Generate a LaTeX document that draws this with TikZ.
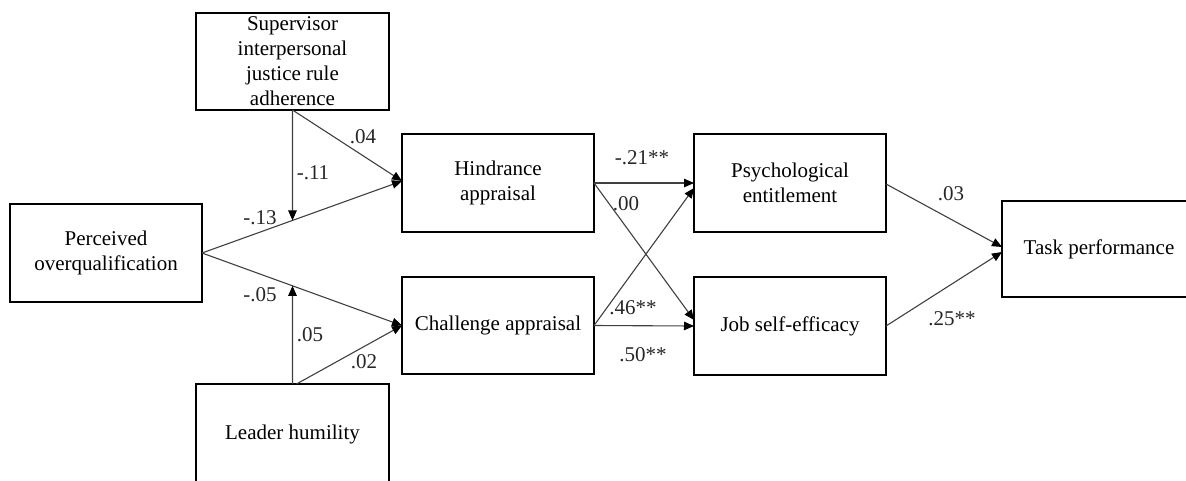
\documentclass[tikz,border=0pt]{standalone}
\usepackage{fontspec}
\setmainfont{Liberation Serif}
\newfontfamily\labelface{Liberation Serif}
\usetikzlibrary{arrows.meta,calc}

\tikzset{
  varbox/.style={draw=black, line width=1.7pt, rectangle, align=center, inner sep=0pt, outer sep=0pt,
                 font=\labelface\fontsize{21}{25}\selectfont},
  path/.style={draw=black!75, line width=1.1pt, -{Triangle[length=10pt,width=8.5pt,color=black]}},
  coef/.style={font=\labelface\fontsize{21}{25}\selectfont, inner sep=0pt, text=black!85}
}

\begin{document}
\begin{tikzpicture}[x=1pt, y=-1pt]
  \useasboundingbox (0,0) rectangle (1186,480);
  \clip (0,0) rectangle (1186,480);

  % variables
  \node[varbox, minimum width=193, minimum height=97]  (sup)  at (292.5,61.5) {Supervisor\\interpersonal\\justice rule\\adherence};
  \node[varbox, minimum width=192, minimum height=98]  (per)  at (106,253)    {Perceived\\overqualification};
  \node[varbox, minimum width=193, minimum height=100] (lea)  at (292.5,434)  {Leader humility};
  \node[varbox, minimum width=192, minimum height=98]  (hin)  at (498,183)    {Hindrance\\appraisal};
  \node[varbox, minimum width=192, minimum height=97]  (cha)  at (498,325.5)  {Challenge appraisal};
  \node[varbox, minimum width=192, minimum height=98]  (psy)  at (790,183)    {Psychological\\entitlement};
  \node[varbox, minimum width=192, minimum height=98]  (job)  at (790,326)    {Job self-efficacy};
  \node[varbox, minimum width=194, minimum height=96]  (task) at (1099,249)   {Task performance};

  % entry points of the first-stage paths
  \coordinate (hinin) at ([yshift=2pt]hin.west);
  \coordinate (chain) at (cha.west);
  % points where the moderators meet those paths
  \coordinate (m1) at ($(per.east)!0.4525!(hinin)$);
  \coordinate (m2) at ($(per.east)!0.4525!(chain)$);

  % first stage
  \draw[path] (per.east) -- (hinin);
  \draw[path] (per.east) -- (chain);
  \draw[path] (sup.south) -- (m1);
  \draw[path] (sup.south) -- (hinin);
  \draw[path] (lea.north) -- (m2);
  \draw[path] ([xshift=4pt]lea.north) -- (chain);

  % second stage
  \draw[path] (hin.east) -- (psy.west);
  \draw[path] (hin.east) -- ([yshift=6pt]job.west);
  \draw[path] (cha.east) -- ([yshift=-5pt]psy.west);
  \draw[path] (cha.east) -- (job.west);

  % third stage
  \draw[path] ([yshift=-1pt]psy.east) -- ([yshift=2pt]task.west);
  \draw[path] (job.east) -- ([yshift=-3pt]task.west);

  % coefficients
  \node[coef] (c1)  at (363,137) {.04};
  \node[coef] (c2)  at (313,173) {-.11};
  \node[coef] (c3)  at (260,218) {-.13};
  \node[coef] (c4)  at (260,295) {-.05};
  \node[coef] (c5)  at (310,335) {.05};
  \node[coef] (c6)  at (364,362) {.02};
  \node[coef] (c7)  at (642,158) {-.21**};
  \node[coef] (c8)  at (626,204) {.00};
  \node[coef] (c9)  at (633,308) {.46**};
  \node[coef] (c10) at (643,355) {.50**};
  \node[coef] (c11) at (951,194) {.03};
  \node[coef] (c12) at (952,319) {.25**};
\end{tikzpicture}
\end{document}
